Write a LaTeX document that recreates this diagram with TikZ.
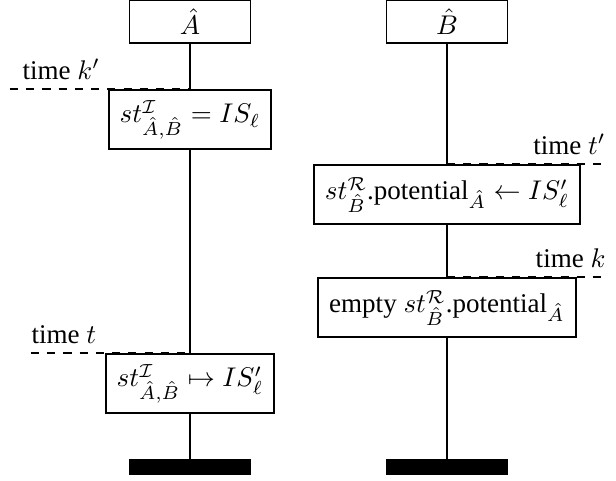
\documentclass[tikz,border=0pt]{standalone}
\usepackage{fontspec}
\setmainfont{Liberation Serif}
\usepackage{tikz}
\usetikzlibrary{calc,positioning}
\tikzset{
    party box/.style={
        draw,line width=0.7pt,
        fill=white,
        minimum width=44.8pt,minimum height=15pt
    },
    state box/.style={
        draw,line width=0.7pt,
        fill=white,
        inner xsep=4pt,
        minimum height=22pt
    },
    end bar/.style={
        fill=black,inner sep=0pt,
        minimum width=45.5pt,minimum height=6pt
    },
    lifeline/.style={line width=0.9pt},
    time line/.style={line width=0.7pt,dashed}
}

\begin{document}
\begin{tikzpicture}[x=0.37pt,y=-0.37pt]
\useasboundingbox (0,0) rectangle (616,481);
% time marks
\coordinate (kp_start) at (10,89);
\coordinate (kp_end) at (190,89);
\coordinate (t_start) at (31,353);
\coordinate (t_end) at (190,353);
\coordinate (tp_start) at (447,164);
\coordinate (tp_end) at (606,164);
\coordinate (k_start) at (447,277);
\coordinate (k_end) at (606,277);
\draw[time line] (kp_start) -- (kp_end);
\draw[time line] (t_start) -- (t_end);
\draw[time line] (tp_start) -- (tp_end);
\draw[time line] (k_start) -- (k_end);
\node[anchor=south west,inner xsep=0pt] (lab_kp) at ($(kp_start)+(12,0)$) {time $k'$};
\node[anchor=south west,inner xsep=0pt] (lab_t) at (t_start) {time $t$};
\node[anchor=south east,inner xsep=0pt] (lab_tp) at (tp_end) {time $t'$};
\node[anchor=south east,inner xsep=0pt] (lab_k) at (k_end) {time $k$};
% lifelines
\draw[lifeline] (190,42) -- (190,459);
\draw[lifeline] (447,42) -- (447,459);
% parties
\node[party box] (A) at (190,21.5) {$\hat{A}$};
\node[party box] (B) at (447,21.5) {$\hat{B}$};
% states
\node[state box,anchor=north] (stA1) at (kp_end) {$st^{\mathcal{I}}_{\hat{A},\hat{B}} = IS_\ell$};
\node[state box,anchor=north] (stA2) at (t_end) {$st^{\mathcal{I}}_{\hat{A},\hat{B}} \mapsto IS'_\ell$};
\node[state box,anchor=north] (stB1) at (tp_start) {$st^{\mathcal{R}}_{\hat{B}}$.potential$_{\hat{A}} \leftarrow IS'_\ell$};
\node[state box,anchor=north] (stB2) at (k_start) {empty $st^{\mathcal{R}}_{\hat{B}}$.potential$_{\hat{A}}$};
% ends
\foreach \x/\name in {190/endA,447/endB}
    \node[end bar] (\name) at (\x,467) {};
\end{tikzpicture}
\end{document}
